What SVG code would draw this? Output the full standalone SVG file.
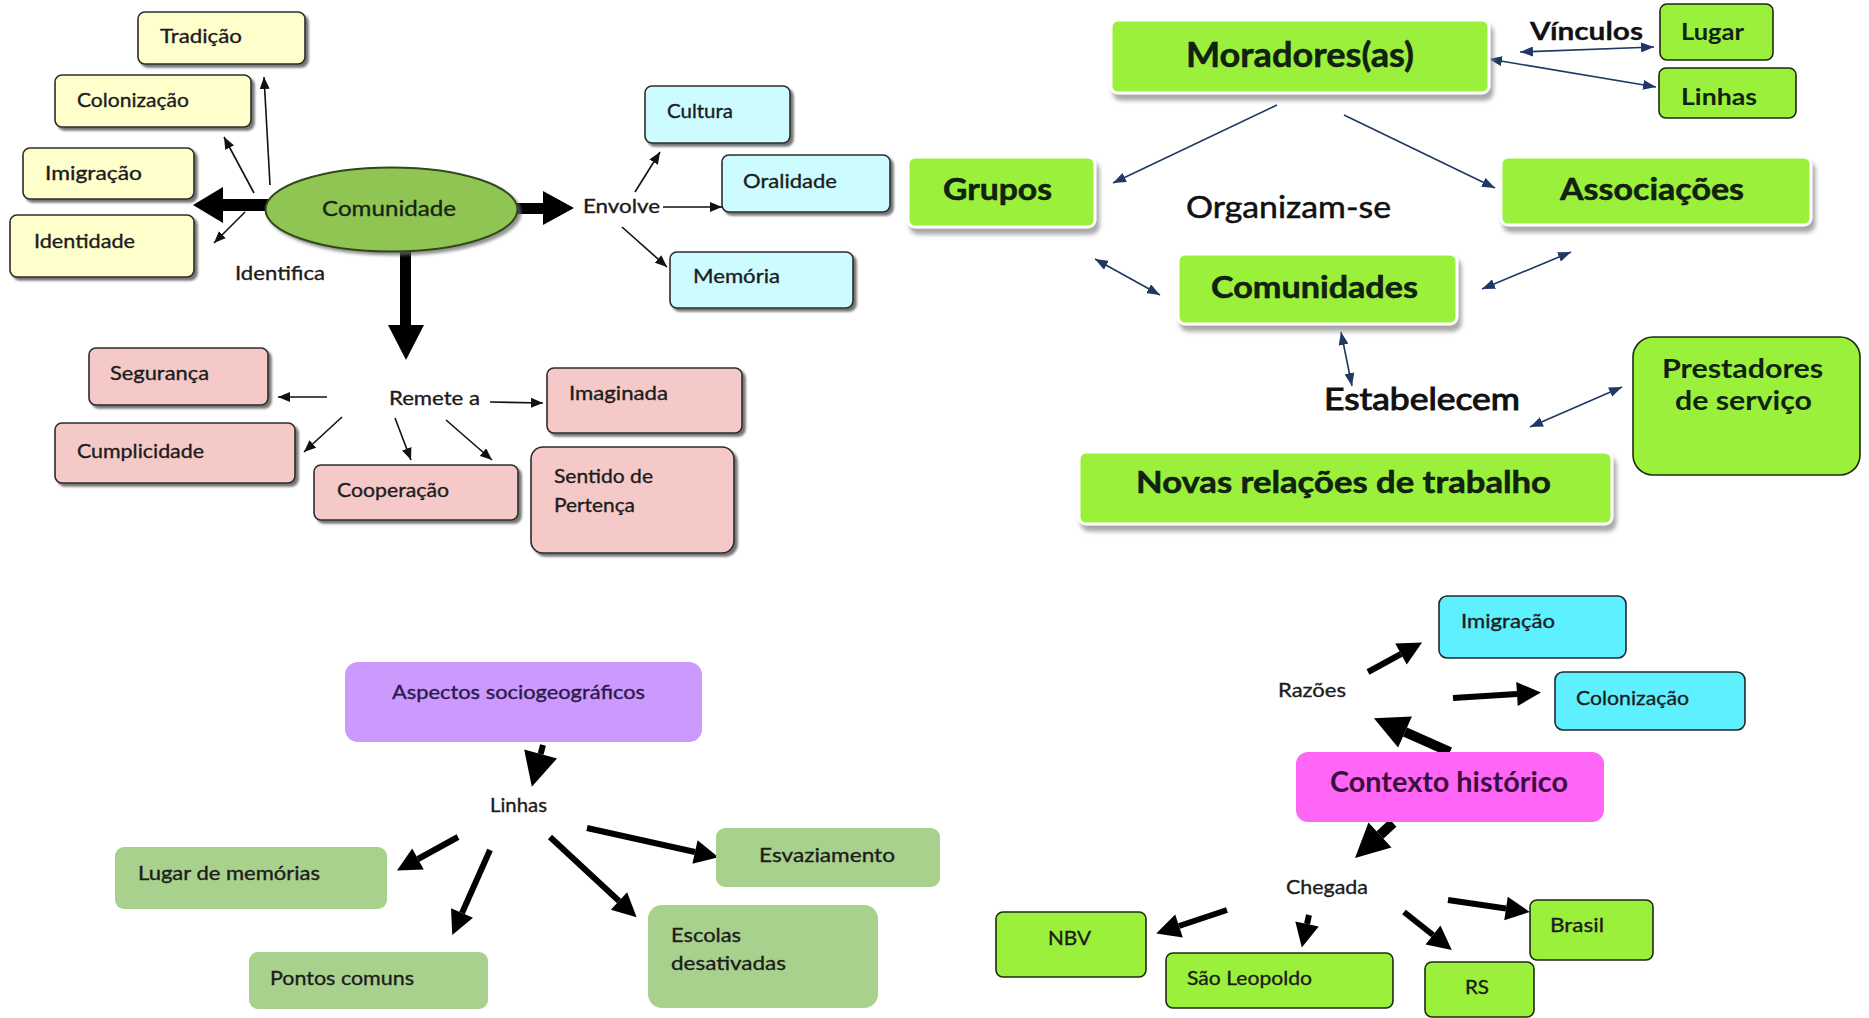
<svg xmlns="http://www.w3.org/2000/svg" width="1869" height="1018" viewBox="0 0 1869 1018">
  <style>
    text { font-family: Lato, "Open Sans", "Liberation Sans", sans-serif; fill: #1c1c1c; }
    .s { font-size: 20px; stroke: #1c1c1c; stroke-width: 0.35; }
    .b { font-weight: 700; fill: #0f2410; }
    .m { font-size: 30px; stroke: #111; stroke-width: 0.5; }
    .yel { fill: #FFFFCC; stroke: #2b2b2b; stroke-width: 1.6; filter: url(#hard); }
    .cya { fill: #CCFCFF; stroke: #2b2b2b; stroke-width: 1.6; filter: url(#hard); }
    .pnk { fill: #F6C9C9; stroke: #2b2b2b; stroke-width: 1.6; filter: url(#hard); }
    .lime { fill: #9BF03B; stroke: #ffffff; stroke-width: 3; filter: url(#soft); }
    .limeb { fill: #9BF03B; stroke: #1e2a12; stroke-width: 1.6; }
    .cyb { fill: #5FF0FF; stroke: #1e2a2e; stroke-width: 1.6; }
    .sage { fill: #A9D18E; }
    .lav { fill: #CC99FF; }
    .mag { fill: #FF66F5; }
    .thin { stroke: #111; stroke-width: 1.6; fill: none; marker-end: url(#ah); }
    .blue { stroke: #1F3864; stroke-width: 1.6; fill: none; marker-end: url(#bh); }
    .blue2 { stroke: #1F3864; stroke-width: 1.6; fill: none; marker-start: url(#bh); marker-end: url(#bh); }
    .thick { stroke: #000; stroke-width: 6; fill: none; marker-end: url(#th); }
    .heavy { stroke: #000; stroke-width: 10; fill: none; marker-end: url(#hh); }
    .solid { fill: #000; }
  </style>
  <defs>
    <filter id="hard" x="-10%" y="-10%" width="130%" height="140%">
      <feDropShadow dx="3" dy="3" stdDeviation="1.2" flood-color="#555" flood-opacity="0.8"/>
    </filter>
    <filter id="soft" x="-10%" y="-10%" width="130%" height="140%">
      <feDropShadow dx="3" dy="6" stdDeviation="2" flood-color="#8a8a8a" flood-opacity="0.75"/>
    </filter>
    <filter id="oval" x="-10%" y="-10%" width="130%" height="140%">
      <feDropShadow dx="3" dy="3" stdDeviation="1.5" flood-color="#666" flood-opacity="0.7"/>
    </filter>
    <!-- small black head, tip on the line end -->
    <marker id="ah" markerUnits="userSpaceOnUse" viewBox="0 0 12 10" markerWidth="12" markerHeight="10" refX="12" refY="5" orient="auto">
      <path d="M0,0 L12,5 L0,10 z" fill="#111"/>
    </marker>
    <!-- navy head, used at both ends of two-way links -->
    <marker id="bh" markerUnits="userSpaceOnUse" viewBox="0 0 13 10" markerWidth="13" markerHeight="10" refX="13" refY="5" orient="auto-start-reverse">
      <path d="M0,0 L13,5 L0,10 z" fill="#1F3864"/>
    </marker>
    <!-- heavy heads: base sits on the line end -->
    <marker id="th" markerUnits="userSpaceOnUse" viewBox="0 -12 24 24" markerWidth="24" markerHeight="24" refX="0" refY="0" orient="auto" overflow="visible">
      <path d="M0,-12 L24,0 L0,12 z" fill="#000"/>
    </marker>
    <marker id="hh" markerUnits="userSpaceOnUse" viewBox="0 -17 34 34" markerWidth="34" markerHeight="34" refX="0" refY="0" orient="auto" overflow="visible">
      <path d="M0,-17 L34,0 L0,17 z" fill="#000"/>
    </marker>
  </defs>

  <rect width="1869" height="1018" fill="#ffffff"/>

  <!-- connectors -->
  <g id="connectors">
    <!-- Comunidade hub -->
    <rect class="solid" x="220" y="199" width="50" height="12"/>
    <polygon class="solid" points="223,187 193,205 223,223"/>
    <rect class="solid" x="514" y="203" width="32" height="11"/>
    <polygon class="solid" points="543,191 574,208 543,225"/>
    <rect class="solid" x="400" y="250" width="11" height="77"/>
    <polygon class="solid" points="388,325 424,325 406,360"/>
    <line class="thin" x1="270" y1="185" x2="264" y2="77"/>
    <line class="thin" x1="254" y1="193" x2="224" y2="137"/>
    <line class="thin" x1="245" y1="212" x2="214" y2="243"/>
    <line class="thin" x1="635" y1="192" x2="660" y2="152"/>
    <line class="thin" x1="663" y1="207" x2="722" y2="207"/>
    <line class="thin" x1="622" y1="227" x2="667" y2="267"/>
    <line class="thin" x1="327" y1="397" x2="278" y2="397"/>
    <line class="thin" x1="342" y1="417" x2="304" y2="452"/>
    <line class="thin" x1="395" y1="418" x2="411" y2="460"/>
    <line class="thin" x1="446" y1="420" x2="492" y2="460"/>
    <line class="thin" x1="490" y1="402" x2="543" y2="403"/>

    <!-- Moradores(as) network -->
    <line class="blue2" x1="1520" y1="52" x2="1654" y2="47"/>
    <line class="blue2" x1="1489" y1="59" x2="1656" y2="87"/>
    <line class="blue" x1="1277" y1="105" x2="1113" y2="183"/>
    <line class="blue" x1="1344" y1="115" x2="1495" y2="188"/>
    <line class="blue2" x1="1095" y1="259" x2="1160" y2="295"/>
    <line class="blue2" x1="1482" y1="289" x2="1571" y2="252"/>
    <line class="blue2" x1="1341" y1="332" x2="1352" y2="386"/>
    <line class="blue2" x1="1530" y1="427" x2="1622" y2="387"/>

    <!-- Aspectos sociogeograficos -->
    <line class="thick" x1="543" y1="745" x2="540.6" y2="754" style="marker-end:url(#hh)"/>
    <line class="thick" x1="458" y1="837" x2="418" y2="859"/>
    <line class="thick" x1="490" y1="850" x2="462" y2="913"/>
    <line class="thick" x1="550" y1="837" x2="619" y2="901"/>
    <line class="thick" x1="587" y1="828" x2="695" y2="852"/>

    <!-- Contexto historico -->
    <line class="thick" x1="1368" y1="672" x2="1401" y2="654"/>
    <line class="thick" x1="1453" y1="698" x2="1517" y2="694"/>
    <line class="heavy" x1="1450" y1="752" x2="1405" y2="732"/>
    <line class="heavy" x1="1393" y1="823" x2="1380" y2="835"/>
    <line class="thick" x1="1227" y1="910" x2="1179" y2="926"/>
    <line class="thick" x1="1309" y1="915" x2="1307" y2="924"/>
    <line class="thick" x1="1404" y1="912" x2="1433" y2="935"/>
    <line class="thick" x1="1448" y1="900" x2="1506" y2="908.5"/>
  </g>

  <!-- Comunidade cluster -->
  <g id="tradicao"><rect class="yel" x="138" y="12" width="167" height="52" rx="7"/><text class="s" x="160" y="43" textLength="82" lengthAdjust="spacingAndGlyphs">Tradição</text></g>
  <g id="colonizacao-1"><rect class="yel" x="55" y="75" width="196" height="52" rx="7"/><text class="s" x="77" y="107" textLength="112" lengthAdjust="spacingAndGlyphs">Colonização</text></g>
  <g id="imigracao-1"><rect class="yel" x="23" y="148" width="171" height="51" rx="7"/><text class="s" x="45" y="180" textLength="97" lengthAdjust="spacingAndGlyphs">Imigração</text></g>
  <g id="identidade"><rect class="yel" x="10" y="215" width="184" height="62" rx="7"/><text class="s" x="34" y="248" textLength="101" lengthAdjust="spacingAndGlyphs">Identidade</text></g>
  <g id="identifica"><text class="s" x="235" y="280" textLength="90" lengthAdjust="spacingAndGlyphs">Identifica</text></g>
  <g id="comunidade">
    <ellipse cx="391.5" cy="209.5" rx="126" ry="42" fill="#90C553" stroke="#2f4a1a" stroke-width="2" filter="url(#oval)"/>
    <text class="s" x="322" y="216" textLength="134" lengthAdjust="spacingAndGlyphs" style="font-size:22px;fill:#13280f">Comunidade</text>
  </g>
  <g id="envolve"><text class="s" x="583" y="213" textLength="77" lengthAdjust="spacingAndGlyphs">Envolve</text></g>
  <g id="cultura"><rect class="cya" x="645" y="86" width="145" height="57" rx="7"/><text class="s" x="667" y="118" textLength="66" lengthAdjust="spacingAndGlyphs">Cultura</text></g>
  <g id="oralidade"><rect class="cya" x="722" y="155" width="168" height="57" rx="7"/><text class="s" x="743" y="188" textLength="94" lengthAdjust="spacingAndGlyphs">Oralidade</text></g>
  <g id="memoria"><rect class="cya" x="670" y="252" width="183" height="56" rx="7"/><text class="s" x="693" y="283" textLength="87" lengthAdjust="spacingAndGlyphs">Memória</text></g>
  <g id="remete"><text class="s" x="389" y="405" textLength="91" lengthAdjust="spacingAndGlyphs">Remete a</text></g>
  <g id="seguranca"><rect class="pnk" x="89" y="348" width="179" height="57" rx="7"/><text class="s" x="110" y="380" textLength="99" lengthAdjust="spacingAndGlyphs">Segurança</text></g>
  <g id="cumplicidade"><rect class="pnk" x="55" y="423" width="240" height="60" rx="7"/><text class="s" x="77" y="458" textLength="127" lengthAdjust="spacingAndGlyphs">Cumplicidade</text></g>
  <g id="cooperacao"><rect class="pnk" x="314" y="465" width="204" height="55" rx="7"/><text class="s" x="337" y="497" textLength="112" lengthAdjust="spacingAndGlyphs">Cooperação</text></g>
  <g id="imaginada"><rect class="pnk" x="547" y="368" width="195" height="65" rx="7"/><text class="s" x="569" y="400" textLength="99" lengthAdjust="spacingAndGlyphs">Imaginada</text></g>
  <g id="pertenca"><rect class="pnk" x="531" y="447" width="203" height="106" rx="12"/>
    <text class="s" x="554" y="483" textLength="99" lengthAdjust="spacingAndGlyphs">Sentido de</text>
    <text class="s" x="554" y="512" textLength="81" lengthAdjust="spacingAndGlyphs">Pertença</text></g>

  <!-- Moradores(as) cluster -->
  <g id="moradores"><rect class="lime" x="1111" y="20" width="378" height="73" rx="7"/><text class="b m" x="1186" y="67" textLength="228" lengthAdjust="spacingAndGlyphs" style="font-size:35px">Moradores(as)</text></g>
  <g id="vinculos"><text class="b" x="1530" y="40" textLength="113" lengthAdjust="spacingAndGlyphs" style="font-size:25px;fill:#111;stroke:#111;stroke-width:0.3">Vínculos</text></g>
  <g id="lugar"><rect class="limeb" x="1660" y="4" width="113" height="56" rx="7"/><text class="b" x="1681" y="40" font-size="23" textLength="63" lengthAdjust="spacingAndGlyphs">Lugar</text></g>
  <g id="linhas-1"><rect class="limeb" x="1659" y="68" width="137" height="50" rx="7"/><text class="b" x="1681" y="105" font-size="23" textLength="76" lengthAdjust="spacingAndGlyphs">Linhas</text></g>
  <g id="grupos"><rect class="lime" x="908" y="157" width="187" height="70" rx="7"/><text class="b m" x="943" y="200" textLength="109" lengthAdjust="spacingAndGlyphs">Grupos</text></g>
  <g id="associacoes"><rect class="lime" x="1501" y="157" width="310" height="68" rx="7"/><text class="b m" x="1560" y="200" textLength="184" lengthAdjust="spacingAndGlyphs">Associações</text></g>
  <g id="organizam"><text class="m" x="1186" y="218" textLength="205" lengthAdjust="spacingAndGlyphs" style="fill:#111">Organizam-se</text></g>
  <g id="comunidades"><rect class="lime" x="1178" y="254" width="279" height="70" rx="7"/><text class="b m" x="1211" y="298" textLength="207" lengthAdjust="spacingAndGlyphs">Comunidades</text></g>
  <g id="estabelecem"><text class="m" x="1324" y="410" textLength="196" lengthAdjust="spacingAndGlyphs" style="fill:#111;stroke-width:1">Estabelecem</text></g>
  <g id="prestadores"><rect class="limeb" x="1633" y="337" width="227" height="138" rx="20"/>
    <text class="b" x="1662" y="378" font-size="27" textLength="161" lengthAdjust="spacingAndGlyphs">Prestadores</text>
    <text class="b" x="1675" y="410" font-size="27" textLength="137" lengthAdjust="spacingAndGlyphs">de serviço</text></g>
  <g id="novas-relacoes"><rect class="lime" x="1079" y="452" width="533" height="72" rx="7"/><text class="b m" x="1136" y="493" textLength="415" lengthAdjust="spacingAndGlyphs">Novas relações de trabalho</text></g>

  <!-- Aspectos sociogeograficos cluster -->
  <g id="aspectos"><rect class="lav" x="345" y="662" width="357" height="80" rx="13"/><text class="s" x="392" y="699" textLength="253" lengthAdjust="spacingAndGlyphs" style="fill:#2a1a48;stroke:#2a1a48">Aspectos sociogeográficos</text></g>
  <g id="linhas-2"><text class="s" x="490" y="812" textLength="57" lengthAdjust="spacingAndGlyphs">Linhas</text></g>
  <g id="lugar-memorias"><rect class="sage" x="115" y="847" width="272" height="62" rx="9"/><text class="s" x="138" y="880" textLength="182" lengthAdjust="spacingAndGlyphs">Lugar de memórias</text></g>
  <g id="pontos-comuns"><rect class="sage" x="249" y="952" width="239" height="57" rx="9"/><text class="s" x="270" y="985" textLength="144" lengthAdjust="spacingAndGlyphs">Pontos comuns</text></g>
  <g id="esvaziamento"><rect class="sage" x="716" y="828" width="224" height="59" rx="9"/><text class="s" x="759" y="862" textLength="136" lengthAdjust="spacingAndGlyphs">Esvaziamento</text></g>
  <g id="escolas"><rect class="sage" x="648" y="905" width="230" height="103" rx="14"/>
    <text class="s" x="671" y="942" textLength="70" lengthAdjust="spacingAndGlyphs">Escolas</text>
    <text class="s" x="671" y="970" textLength="115" lengthAdjust="spacingAndGlyphs">desativadas</text></g>

  <!-- Contexto historico cluster -->
  <g id="imigracao-2"><rect class="cyb" x="1439" y="596" width="187" height="62" rx="8"/><text class="s" x="1461" y="628" textLength="94" lengthAdjust="spacingAndGlyphs">Imigração</text></g>
  <g id="colonizacao-2"><rect class="cyb" x="1555" y="672" width="190" height="58" rx="8"/><text class="s" x="1576" y="705" textLength="113" lengthAdjust="spacingAndGlyphs">Colonização</text></g>
  <g id="razoes"><text class="s" x="1278" y="697" textLength="68" lengthAdjust="spacingAndGlyphs">Razões</text></g>
  <g id="contexto"><rect class="mag" x="1296" y="752" width="308" height="70" rx="12"/><text class="b" x="1330" y="792" font-size="28" textLength="238" lengthAdjust="spacingAndGlyphs" style="fill:#3a0f3e">Contexto histórico</text></g>
  <g id="chegada"><text class="s" x="1286" y="894" textLength="82" lengthAdjust="spacingAndGlyphs">Chegada</text></g>
  <g id="nbv"><rect class="limeb" x="996" y="912" width="150" height="65" rx="7"/><text class="s" x="1048" y="945" textLength="43" lengthAdjust="spacingAndGlyphs">NBV</text></g>
  <g id="sao-leopoldo"><rect class="limeb" x="1166" y="953" width="227" height="55" rx="7"/><text class="s" x="1187" y="985" textLength="125" lengthAdjust="spacingAndGlyphs">São Leopoldo</text></g>
  <g id="rs"><rect class="limeb" x="1425" y="962" width="109" height="55" rx="7"/><text class="s" x="1465" y="994" textLength="24" lengthAdjust="spacingAndGlyphs">RS</text></g>
  <g id="brasil"><rect class="limeb" x="1530" y="900" width="123" height="60" rx="7"/><text class="s" x="1550" y="932" textLength="54" lengthAdjust="spacingAndGlyphs">Brasil</text></g>
</svg>
